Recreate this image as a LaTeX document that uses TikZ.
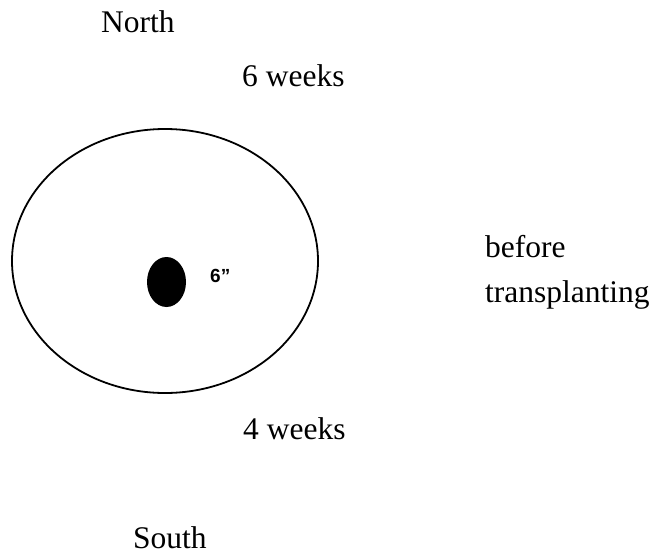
\documentclass[tikz,border=0pt]{standalone}
\usepackage{fontspec}
\setmainfont{Liberation Serif}
\newfontfamily\labelsans{Liberation Sans}
\usepackage{tikz}
\usetikzlibrary{shapes.geometric}
\definecolor{inkblack}{RGB}{0, 0, 0}

\begin{document}
\begin{tikzpicture}[x=1pt, y=-1pt,
    compass/.style={anchor=base west, inner sep=0pt, font=\fontsize{31.5}{38}\selectfont},
    sizelabel/.style={anchor=base west, inner sep=0pt, font=\labelsans\bfseries\fontsize{19}{23}\selectfont}]
    \useasboundingbox (0,0) rectangle (651,554);
    % Bed outline
    \draw[inkblack, line width=1.8pt] (165,261) ellipse [x radius=153, y radius=132];
    % Plant
    \fill[inkblack] (166.5,282) ellipse [x radius=19.5, y radius=25];
    \node[sizelabel] (size) at (210,282) {6”};
    % Directions and timings
    \node[compass] (north) at (101,32) {North};
    \node[compass] (sixweeks) at (242,86) {6 weeks};
    \node[compass] (before) at (485,257) {before};
    \node[compass] (transplant) at (485,302) {transplanting};
    \node[compass] (fourweeks) at (243,439) {4 weeks};
    \node[compass] (south) at (133,548) {South};
\end{tikzpicture}
\end{document}
